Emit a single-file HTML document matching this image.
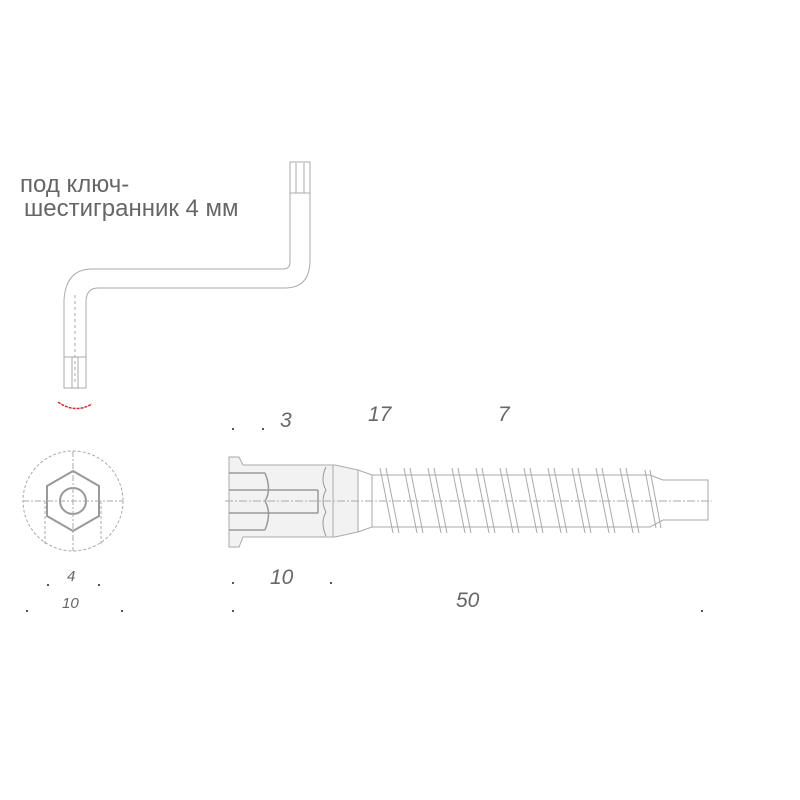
<!DOCTYPE html>
<html><head><meta charset="utf-8"><style>body{margin:0;background:#fff}svg{display:block}text{font-family:"Liberation Sans",sans-serif;fill:#666}</style></head><body>
<svg width="800" height="800" viewBox="0 0 800 800" xmlns="http://www.w3.org/2000/svg">
<g fill="none" stroke="#aaa" stroke-width="1">
<path d="M290 162 V262 Q290 269 283 269 H92 Q66 269 64 300 V388 H86 V302 Q86 288 98 288 H285 Q310 288 310 260 V162 Z"/>
<line x1="290" y1="193" x2="310" y2="193"/><line x1="296" y1="163" x2="296" y2="193"/><line x1="304" y1="163" x2="304" y2="193"/>
<line x1="64" y1="357" x2="86" y2="357"/><line x1="72" y1="357" x2="72" y2="388"/><line x1="78" y1="357" x2="78" y2="388"/>
<line x1="75" y1="295" x2="75" y2="385" stroke-dasharray="3 3"/>
<circle cx="73" cy="501" r="50" stroke-dasharray="3 2"/>
<polygon points="73,471 99,486 99,516 73,531 47,516 47,486" stroke="#999" stroke-width="2"/>
<circle cx="73" cy="501" r="13" stroke="#999" stroke-width="2"/>
<line x1="23" y1="501" x2="123" y2="501" stroke-dasharray="6 2 2 2"/>
<line x1="73" y1="451" x2="73" y2="551" stroke-dasharray="6 2 2 2"/>
<line x1="45" y1="501" x2="45" y2="545" stroke-dasharray="3 2"/>
<line x1="101" y1="501" x2="101" y2="545" stroke-dasharray="3 2"/>
<path d="M229 457 H239 L243 465 H335 L358 470 V532 L335 537 H243 L239 547 H229 Z" fill="#f2f2f2"/>
<path d="M229 473 H265 M229 490 H318 M229 513 H318 M229 530 H265 M265 473 Q272 490 265 501 Q272 513 265 530 M318 490 V513" stroke="#999" stroke-width="1.5"/>
<path d="M326 467 Q320 480 326 490 Q320 501 326 512 Q320 522 326 536" stroke="#999"/>
<line x1="333" y1="465" x2="333" y2="537"/>
<path d="M358 470 L372 475 H650 L663 480 H708 V520 H663 L650 527 H372 L358 532"/>
<line x1="372" y1="475" x2="372" y2="527"/>
<path d="M380 468 L393 533 M386 468 L399 533 M404 468 L417 533 M410 468 L423 533 M428 468 L441 533 M434 468 L447 533 M452 468 L465 533 M458 468 L471 533 M476 468 L489 533 M482 468 L495 533 M500 468 L513 533 M506 468 L519 533 M524 468 L537 533 M530 468 L543 533 M548 468 L561 533 M554 468 L567 533 M572 468 L585 533 M578 468 L591 533 M596 468 L609 533 M602 468 L615 533 M620 468 L633 533 M626 468 L639 533 M645 470 L656 528 M650 470 L661 528"/>
<line x1="225" y1="501" x2="712" y2="501" stroke-dasharray="8 2 2 2"/>
</g>
<path d="M58 402 Q75 414 92 404" fill="none" stroke="#c33" stroke-width="1.5" stroke-dasharray="3 1"/>
<text x="20" y="192" font-size="24" fill="#888">под ключ-</text>
<text x="24" y="216" font-size="24" fill="#888">шестигранник 4 мм</text>
<g font-style="italic" font-size="21">
<text x="280" y="427">3</text><text x="368" y="421">17</text><text x="498" y="421">7</text>
<text x="67" y="581" font-size="15">4</text><text x="62" y="608" font-size="15">10</text>
<text x="270" y="584">10</text><text x="456" y="607">50</text>
</g>
<g fill="#555"><rect x="232" y="428" width="2" height="2"/><rect x="262" y="428" width="2" height="2"/><rect x="232" y="582" width="2" height="2"/><rect x="330" y="582" width="2" height="2"/><rect x="232" y="610" width="2" height="2"/><rect x="701" y="610" width="2" height="2"/><rect x="47" y="584" width="2" height="2"/><rect x="98" y="584" width="2" height="2"/><rect x="26" y="610" width="2" height="2"/><rect x="121" y="610" width="2" height="2"/></g>
</svg>
</body></html>
